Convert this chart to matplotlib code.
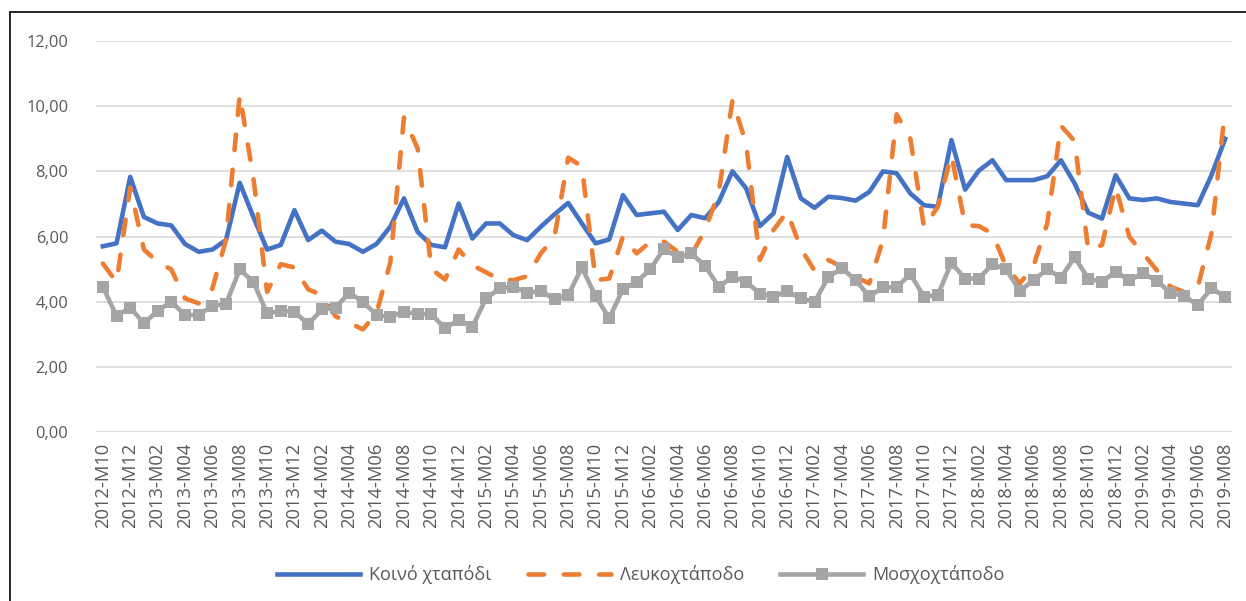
import matplotlib
matplotlib.use("Agg")
import matplotlib.pyplot as plt
from matplotlib.lines import Line2D
import numpy as np
import pandas as pd

plt.rcParams['font.family'] = ['Open Sans', 'DejaVu Sans']

# Μηνιαίες περίοδοι 2012-M10 .. 2019-M08
periods = pd.period_range("2012-10", "2019-08", freq="M")
labels = [f"{p.year}-M{p.month:02d}" for p in periods]

names = ["Κοινό χταπόδι", "Λευκοχτάποδο", "Μοσχοχτάποδο"]

koino = [5.70, 5.79, 7.83, 6.60, 6.40, 6.34, 5.77, 5.53, 5.60, 5.89,
         7.65, 6.60, 5.60, 5.74, 6.81, 5.89, 6.18, 5.84, 5.77, 5.53,
         5.77, 6.30, 7.17, 6.14, 5.74, 5.67, 7.01, 5.94, 6.40, 6.40,
         6.04, 5.89, 6.30, 6.68, 7.03, 6.40, 5.79, 5.91, 7.27, 6.66,
         6.71, 6.76, 6.20, 6.66, 6.56, 7.06, 8.00, 7.48, 6.32, 6.71,
         8.44, 7.17, 6.88, 7.22, 7.18, 7.10, 7.37, 8.00, 7.94, 7.32,
         6.96, 6.91, 8.96, 7.44, 8.02, 8.34, 7.73, 7.73, 7.73, 7.85,
         8.34, 7.63, 6.73, 6.55, 7.88, 7.17, 7.12, 7.17, 7.06, 7.01,
         6.96, 7.88, 9.00]

lefko = [5.17, 4.60, 7.50, 5.60, 5.22, 4.99, 4.10, 3.95, 4.40, 5.90,
         10.35, 7.80, 4.30, 5.15, 5.05, 4.38, 4.20, 3.55, 3.35, 3.15,
         3.65, 5.20, 9.65, 8.70, 5.00, 4.68, 5.60, 5.12, 4.90, 4.68,
         4.66, 4.78, 5.48, 5.99, 8.42, 8.15, 4.66, 4.71, 6.00, 5.48,
         5.84, 5.84, 5.53, 5.43, 6.20, 7.35, 10.18, 8.85, 5.28, 6.20,
         6.76, 5.63, 4.95, 5.28, 5.07, 4.76, 4.56, 5.90, 9.75, 9.00,
         6.28, 6.91, 8.50, 6.35, 6.32, 6.09, 5.07, 4.56, 5.10, 6.40,
         9.40, 8.93, 5.58, 5.74, 7.52, 5.99, 5.48, 4.97, 4.46, 4.30,
         4.45, 6.09, 9.92]

mosxo = [4.46, 3.56, 3.82, 3.33, 3.72, 4.00, 3.59, 3.59, 3.87, 3.93,
         4.99, 4.61, 3.64, 3.72, 3.69, 3.31, 3.76, 3.82, 4.27, 4.00,
         3.59, 3.54, 3.69, 3.62, 3.62, 3.18, 3.44, 3.23, 4.10, 4.41,
         4.46, 4.27, 4.33, 4.07, 4.20, 5.05, 4.17, 3.49, 4.38, 4.61,
         4.99, 5.63, 5.36, 5.48, 5.10, 4.46, 4.76, 4.61, 4.25, 4.15,
         4.32, 4.10, 3.99, 4.75, 5.03, 4.66, 4.16, 4.44, 4.44, 4.85,
         4.15, 4.20, 5.19, 4.71, 4.71, 5.15, 4.99, 4.33, 4.66, 4.99,
         4.74, 5.36, 4.71, 4.61, 4.92, 4.66, 4.87, 4.64, 4.27, 4.17,
         3.90, 4.41, 4.15]

yticks = [0, 2, 4, 6, 8, 10, 12]

blue = "#4472C4"
orange = "#ED7D31"
gray = "#A5A5A5"
txt = "#595959"

W, H = 1246, 601
fig = plt.figure(figsize=(W / 100, H / 100), dpi=100)
ax = fig.add_axes([96 / W, (H - 432) / H, (1232 - 96) / W, (432 - 41) / H])

x = np.arange(len(labels))

ax.plot(x, koino, color=blue, lw=3.3, solid_joinstyle="round", zorder=3)
ax.plot(x, lefko, color=orange, lw=3.3, linestyle=(0, (3.4, 4.3)),
        dash_capstyle="round", zorder=3)
ax.plot(x, mosxo, color=gray, lw=3.3, marker="s", markersize=8.5,
        markeredgewidth=0, zorder=3)

ax.set_xlim(-0.5, len(labels) - 0.5)
ax.set_ylim(0, 12)
ax.set_yticks(yticks)
ax.set_yticklabels([f"{v:.2f}".replace(".", ",") for v in yticks])
ax.set_xticks(x[::2])
ax.set_xticklabels(labels[::2], rotation=90)

ax.grid(axis="y", color="#D9D9D9", lw=1.2)
ax.set_axisbelow(True)
for s in ax.spines.values():
    s.set_visible(False)
ax.tick_params(axis="both", length=0, colors=txt)
ax.tick_params(axis="y", labelsize=11.8, pad=20)
ax.tick_params(axis="x", labelsize=13.2, pad=8)

handles = [
    Line2D([], [], color=blue, lw=3.3),
    Line2D([], [], color=orange, lw=3.3, linestyle=(0, (3.4, 4.3)), dash_capstyle="round"),
    Line2D([], [], color=gray, lw=3.3, marker="s", markersize=8.5, markeredgewidth=0),
]
leg = fig.legend(handles, names, loc="center", bbox_to_anchor=(641 / W, (H - 575) / H),
                 ncol=3, frameon=False, fontsize=13, handlelength=4.6,
                 columnspacing=2.0, handletextpad=0.5)
for t in leg.get_texts():
    t.set_color(txt)

# πλαίσιο (πάνω και αριστερά)
fig.add_artist(Line2D([10 / W, 10 / W], [0, (H - 12) / H], color="black", lw=1.2))
fig.add_artist(Line2D([10 / W, 1], [(H - 12) / H, (H - 12) / H], color="black", lw=1.2))

fig.savefig("out.png", dpi=100)
